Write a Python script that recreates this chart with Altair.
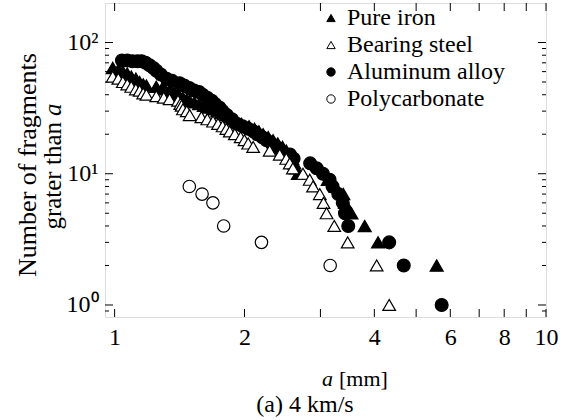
import altair as alt
import pandas as pd

# ---------------- data ----------------
SERIES = ["Pure iron", "Bearing steel", "Aluminum alloy", "Polycarbonate"]

iron_a = [0.99, 1.02, 1.045, 1.07, 1.093, 1.12, 1.143, 1.165, 1.185, 1.249, 1.29, 1.31,
          1.341, 1.36, 1.38, 1.40, 1.415, 1.44, 1.47, 1.493, 1.53, 1.57, 1.61, 1.65, 1.69,
          1.73, 1.77, 1.81, 1.85, 1.89, 1.92, 1.97, 2.05, 2.11, 2.16, 2.21, 2.27, 2.33,
          2.39, 2.45, 2.50, 2.54, 2.58, 2.61, 2.63, 2.66, 3.12, 3.25, 3.39, 3.42, 3.54,
          3.80, 4.08, 5.58]
iron_n = [64, 62, 60, 58, 55, 53, 50, 48, 47, 46, 45, 44,
          43, 42, 41, 40, 39, 38, 37, 36, 35, 34, 33, 32, 31,
          30, 29, 28, 27, 26, 25, 24, 23, 22, 21, 20, 19, 18,
          17, 16, 15, 14, 13, 12, 11, 10, 9, 8, 7, 6, 5,
          4, 3, 2]

steel_a = [0.99, 1.02, 1.045, 1.07, 1.093, 1.12, 1.143, 1.165, 1.185, 1.249, 1.30, 1.341,
           1.403, 1.42, 1.43, 1.44, 1.47, 1.493, 1.589, 1.64, 1.691, 1.737, 1.78, 1.816,
           1.849, 1.90, 1.96, 2.00, 2.04, 2.095, 2.288, 2.414, 2.50, 2.547, 2.59, 2.733,
           2.833, 2.884, 2.99, 3.05, 3.10, 3.23, 3.47, 4.05, 4.33]
steel_n = [55, 53, 50, 48, 46, 44, 43, 41, 40, 39, 38, 37,
           36, 34, 33, 31, 30, 28, 27, 26, 25, 24, 23, 22,
           21, 20, 19, 18, 17, 16, 15, 14, 13, 12, 11, 10,
           9, 8, 7, 6, 5, 4, 3, 2, 1]

alu_a = [1.04, 1.07, 1.10, 1.13, 1.155, 1.18, 1.205, 1.23, 1.25, 1.28, 1.32, 1.36, 1.415,
         1.45, 1.49, 1.53, 1.57, 1.60, 1.64, 1.68, 1.71, 1.75, 1.78, 1.82, 1.87, 1.92,
         1.98, 2.04, 2.10, 2.14, 2.20, 2.25, 2.31, 2.37, 2.43, 2.50, 2.55, 2.60, 2.84,
         2.94, 3.04, 3.15, 3.20, 3.30, 3.38, 3.42, 3.48, 4.33, 4.68, 5.73]
alu_n = [73, 73, 72, 72, 72, 70, 67, 64, 61, 57, 53, 51, 49,
         47, 45, 43, 42, 40, 38, 36, 34, 32, 30, 28, 26, 24,
         23, 22, 21, 20, 19, 18, 17, 16, 15, 14, 14, 13, 12,
         11, 10, 9, 8, 7, 6, 5, 4, 3, 2, 1]

poly_a = [1.49, 1.595, 1.69, 1.79, 2.19, 3.16]
poly_n = [8, 7, 6, 4, 3, 2]

X_TICKS = [1, 2, 3, 4, 5, 6, 7, 8, 9, 10]
X_LABELS = [1, 2, 4, 6, 8, 10]
Y_MAJOR = [1, 10, 100]
Y_MINOR = [0.9, 2, 3, 4, 5, 6, 7, 8, 9, 20, 30, 40, 50, 60, 70, 80, 90]

X_TITLE_ITALIC = "a"
X_TITLE_REST = "[mm]"
Y_TITLE_1 = "Number of fragments"
Y_TITLE_2 = "grater than"
Y_TITLE_ITALIC = "a"
CAPTION = "(a) 4 km/s"

# ---------------- build table ----------------
DRAW_ORDER = ["Pure iron", "Aluminum alloy", "Bearing steel", "Polycarbonate"]
rows = []
for name, xs, ns in [("Pure iron", iron_a, iron_n), ("Aluminum alloy", alu_a, alu_n),
                     ("Bearing steel", steel_a, steel_n), ("Polycarbonate", poly_a, poly_n)]:
    for a, n in zip(xs, ns):
        rows.append({"series": name, "a": a, "n": n})
df = pd.DataFrame(rows)

FONT = "Liberation Serif"
FS = 24
W, H = 441, 314

xscale = alt.Scale(type="log", domain=[0.95, 10], nice=False)
yscale = alt.Scale(type="log", domain=[0.81, 200], nice=False)

xaxis = alt.Axis(values=X_LABELS, ticks=False, domain=False, grid=False, labelFont=FONT,
                 labelFontSize=FS, labelColor="black", labelPadding=8, format="d",
                 labelFlush=False, labelOverlap=False)
yaxis = alt.Axis(values=Y_MAJOR, ticks=False, domain=False, grid=False, labelFont=FONT,
                 labelFontSize=FS, labelColor="black", labelPadding=7,
                 labelExpr="datum.value == 1 ? '10⁰' : datum.value == 10 ? '10¹' : '10²'")

legend = alt.Legend(orient="none", legendX=214, legendY=3, padding=0, labelFont=FONT,
                    labelFontSize=FS, labelColor="black", symbolSize=70,
                    symbolStrokeColor="black", symbolStrokeWidth=1,
                    rowPadding=3, labelOffset=4)

points = alt.Chart(df).mark_point(opacity=1, fillOpacity=1, strokeWidth=1.2).encode(
    x=alt.X("a:Q", scale=xscale, axis=xaxis, title=None),
    y=alt.Y("n:Q", scale=yscale, axis=yaxis, title=None),
    fill=alt.Fill("series:N", title=None, legend=legend,
                  scale=alt.Scale(domain=SERIES, range=["black", "white", "black", "white"])),
    stroke=alt.Stroke("series:N", title=None, legend=legend,
                      scale=alt.Scale(domain=SERIES, range=["black", "black", "black", "black"])),
    shape=alt.Shape("series:N", title=None, legend=legend,
                    scale=alt.Scale(domain=SERIES,
                                    range=["triangle-up", "triangle-up", "circle", "circle"])),
    size=alt.Size("series:N", scale=alt.Scale(domain=DRAW_ORDER, range=[170, 155, 170, 110]),
                  legend=None),
)

xt = pd.DataFrame({"v": X_TICKS})
ymaj = pd.DataFrame({"v": Y_MAJOR})
ymin = pd.DataFrame({"v": Y_MINOR})

def xtick(y0, y1):
    return alt.Chart(xt).mark_rule(color="black", strokeWidth=1).encode(
        x=alt.X("v:Q", scale=xscale, axis=xaxis, title=None),
        y=alt.value(y0), y2=alt.value(y1))

def ytick(d, x0, x1):
    return alt.Chart(d).mark_rule(color="black", strokeWidth=1).encode(
        y=alt.Y("v:Q", scale=yscale, axis=yaxis, title=None),
        x=alt.value(x0), x2=alt.value(x1))

ticks = [xtick(H, H - 8), xtick(0, 8),
         ytick(ymaj, 0, 8), ytick(ymin, 0, 4),
         ytick(ymaj, W, W - 8), ytick(ymin, W, W - 4)]

def txt(s, x, y, align="center", angle=0, italic=False, size=FS):
    return alt.Chart(pd.DataFrame({"t": [s]})).mark_text(
        font=FONT, fontSize=size, color="black", align=align, baseline="middle",
        angle=angle, fontStyle="italic" if italic else "normal").encode(
        text="t:N", x=alt.value(x), y=alt.value(y))

texts = [
    txt(X_TITLE_ITALIC, 228, 376, align="right", italic=True, size=22),
    txt(X_TITLE_REST, 234, 376, align="left", size=22),
    txt(CAPTION, 200, 402),
    txt(Y_TITLE_1, -77, 162, angle=270, size=26),
    txt(Y_TITLE_2, -52, 119, align="right", angle=270, size=25),
    txt(Y_TITLE_ITALIC, -52, 113, align="left", angle=270, italic=True, size=25),
]

chart = alt.layer(*ticks, points, *texts).properties(
    width=W, height=H,
    autosize=alt.AutoSizeParams(type="none"),
    padding={"left": 105, "top": 3, "right": 20, "bottom": 103},
).configure_view(stroke="black", strokeWidth=1.5).configure(
    background="white"
).configure_legend(labelFont=FONT, labelFontSize=FS, labelColor="black")

chart.save("out.html", embed_options={"renderer": "svg", "actions": False})
